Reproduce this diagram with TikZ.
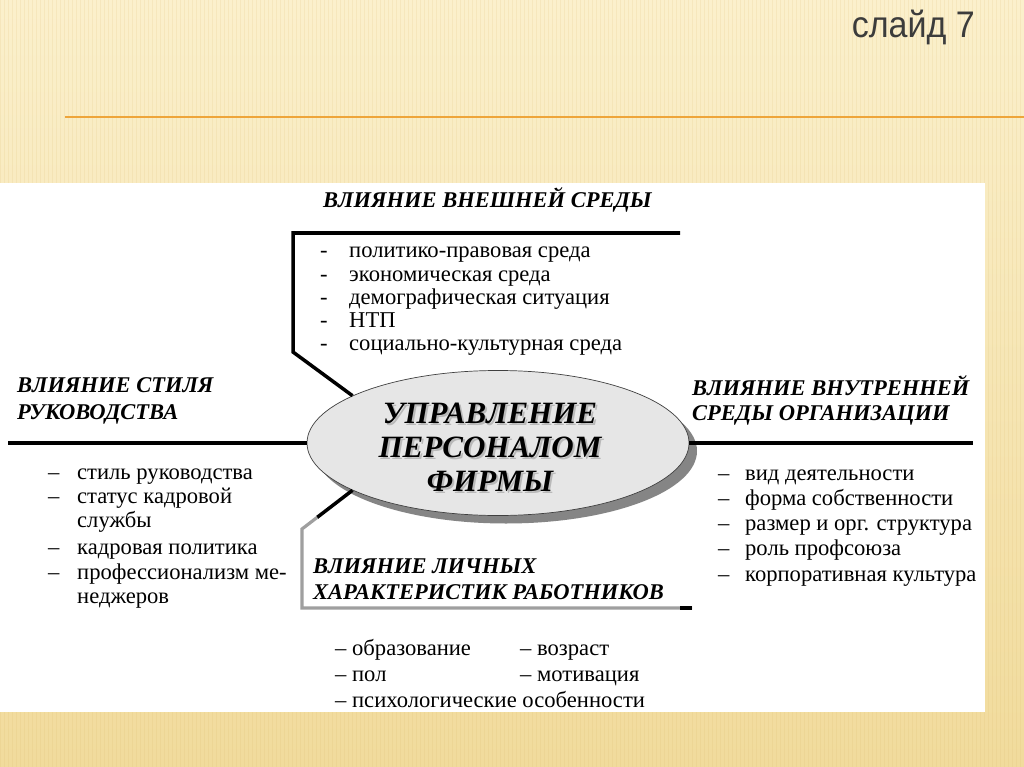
\documentclass[tikz,border=0pt]{standalone}
\usepackage{fontspec}
\setmainfont{Liberation Serif}
\newfontfamily\sansf{Liberation Sans}
\usetikzlibrary{shapes.geometric,calc}
\definecolor{bgA}{HTML}{FBF0CC}
\definecolor{bgB}{HTML}{F1DB9C}
\definecolor{stripec}{HTML}{D9B665}
\definecolor{orangel}{HTML}{EEA53A}
\definecolor{ellfill}{HTML}{E6E6E6}
\definecolor{shadowc}{HTML}{858585}
\definecolor{titlec}{HTML}{3C3C3C}
\tikzset{
  headtxt/.style={font=\fontsize{22.5}{26}\selectfont\bfseries\itshape, anchor=base west, inner sep=0pt},
  itemtxt/.style={font=\fontsize{22.6}{26}\selectfont, anchor=base west, inner sep=0pt},
  bar/.style={line width=3.5pt, black},
  graybar/.style={line width=3.2pt, gray!75},
  stripe/.style={line width=1pt, stripec, opacity=0.14}
}
\newcommand{\dsh}[1]{\makebox[#1][l]{–}}
\newcommand{\hyp}[1]{\makebox[#1][l]{-}}
\begin{document}
\begin{tikzpicture}[x=1pt,y=-1pt]
\useasboundingbox (0,0) rectangle (1024,767);
% background
\shade[top color=bgA, bottom color=bgB] (0,0) rectangle (1024,767);
\foreach \x in {0,4,...,1024} \draw[stripe] (\x,0) -- (\x,767);
\draw[orangel, line width=2.5pt] (65,117) -- (1024,117);
\node[font=\sansf\fontsize{37}{40}\selectfont, text=titlec, anchor=base east, inner sep=0pt, xscale=0.92, transform shape] (title) at (975,38) {слайд 7};
% white panel
\fill[white] (0,183) rectangle (985,712);
% ellipse
\fill[shadowc] (506,451) ellipse [x radius=191, y radius=72.5];
\node[ellipse, draw=black!75, line width=0.7pt, fill=ellfill, minimum width=382pt, minimum height=145pt, inner sep=0pt] (e) at (498,443) {};
\node[align=center, font=\fontsize{31}{34}\selectfont\bfseries\itshape, text=gray!55, inner sep=0pt] (etxts) at (492,449) {УПРАВЛЕНИЕ\\ПЕРСОНАЛОМ\\ФИРМЫ};
\node[align=center, font=\fontsize{31}{34}\selectfont\bfseries\itshape, inner sep=0pt] (etxt) at (490,447) {УПРАВЛЕНИЕ\\ПЕРСОНАЛОМ\\ФИРМЫ};
% connectors
\coordinate (tR) at (680,233);
\coordinate (tL) at (293,233);
\coordinate (tK) at (293,352);
\draw[bar, line join=miter] (tR) -- (tL) -- (tK) -- (e.162);
\coordinate (lL) at (8,443);
\draw[bar] (lL) -- (e.west);
\coordinate (rR) at (973,443);
\draw[bar] (e.east) -- (rR);
\coordinate (bK) at (302,529);
\coordinate (bC) at (302,608);
\coordinate (bR) at (692,608);
\coordinate (bE) at (680,608);
\coordinate (bM) at ($(e.198)!0.7!(bK)$);
\draw[bar] (e.198) -- (bM);
\draw[graybar, line join=miter] (bM) -- (bK) -- (bC) -- (bR);
\draw[line width=3.2pt, black] (bE) -- (bR);
% top block
\node[headtxt] (hT) at (323,208) {ВЛИЯНИЕ ВНЕШНЕЙ СРЕДЫ};
\node[itemtxt] (t1) at (320,258) {\hyp{29pt}политико-правовая среда};
\node[itemtxt] (t2) at (320,281) {\hyp{29pt}экономическая среда};
\node[itemtxt] (t3) at (320,304) {\hyp{29pt}демографическая ситуация};
\node[itemtxt] (t4) at (320,327) {\hyp{29pt}НТП};
\node[itemtxt] (t5) at (320,350) {\hyp{29pt}социально-культурная среда};
% left block
\node[headtxt] (hL1) at (17,392) {ВЛИЯНИЕ СТИЛЯ};
\node[headtxt] (hL2) at (17,419) {РУКОВОДСТВА};
\node[itemtxt] (l1) at (48,479) {\dsh{29pt}стиль руководства};
\node[itemtxt] (l2) at (48,503) {\dsh{29pt}статус кадровой};
\node[itemtxt] (l3) at (77,527) {службы};
\node[itemtxt] (l4) at (48,554) {\dsh{29pt}кадровая политика};
\node[itemtxt] (l5) at (48,579) {\dsh{29pt}профессионализм ме-};
\node[itemtxt] (l6) at (77,603) {неджеров};
% right block
\node[headtxt] (hR1) at (692,395) {ВЛИЯНИЕ ВНУТРЕННЕЙ};
\node[headtxt] (hR2) at (692,420) {СРЕДЫ ОРГАНИЗАЦИИ};
\node[itemtxt] (r1) at (718,480) {\dsh{27pt}вид деятельности};
\node[itemtxt] (r2) at (718,505) {\dsh{27pt}форма собственности};
\node[itemtxt] (r3) at (718,530) {\dsh{27pt}размер и орг. структура};
\node[itemtxt] (r4) at (718,555) {\dsh{27pt}роль профсоюза};
\node[itemtxt] (r5) at (718,581) {\dsh{27pt}корпоративная культура};
% bottom block
\node[headtxt] (hB1) at (313,573) {ВЛИЯНИЕ ЛИЧНЫХ};
\node[headtxt] (hB2) at (313,599) {ХАРАКТЕРИСТИК РАБОТНИКОВ};
\node[itemtxt] (b1) at (335,655) {– образование};
\node[itemtxt] (b2) at (520,655) {– возраст};
\node[itemtxt] (b3) at (335,681) {– пол};
\node[itemtxt] (b4) at (520,681) {– мотивация};
\node[itemtxt] (b5) at (335,707) {– психологические особенности};
\end{tikzpicture}
\end{document}
